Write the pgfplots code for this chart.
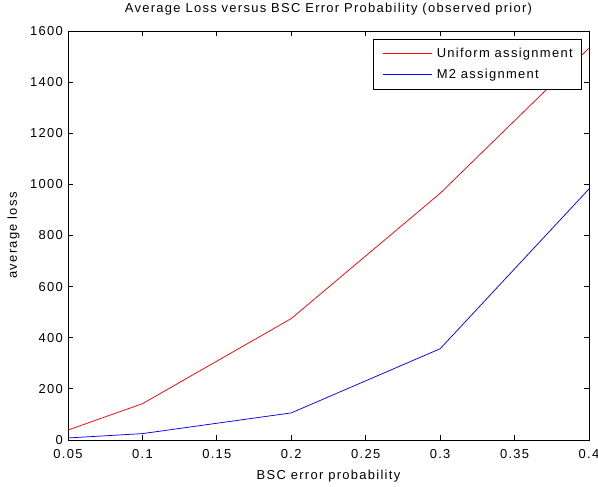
\documentclass[border=0pt]{standalone}
\usepackage{fontspec}
\setmainfont[LetterSpace=10]{Liberation Sans}
\usepackage{pgfplots}
\pgfplotsset{compat=1.18}
\begin{document}
\fontsize{13}{15}\selectfont
\begin{tikzpicture}[x=1bp,y=1bp]
\path[use as bounding box] (-68,-47) rectangle (530,440);
\begin{axis}[
  at={(0,0)}, anchor=south west,
  scale only axis,
  width=521bp, height=409bp,
  xmin=0.05, xmax=0.4, ymin=0, ymax=1600,
  xtick={0.05,0.1,0.15,0.2,0.25,0.3,0.35,0.4},
  xticklabels={0.05,0.1,0.15,0.2,0.25,0.3,0.35,0.4},
  ytick={0,200,400,600,800,1000,1200,1400,1600},
  scaled ticks=false,
  /pgf/number format/1000 sep={},
  /pgf/number format/assume math mode=true,
  tick align=inside,
  major tick length=5bp,
  tick style={black, line width=0.75pt},
  axis line style={black, line width=0.75pt},
  xticklabel style={font=\fontsize{13}{15}\selectfont, anchor=base, yshift=-19bp},
  yticklabel style={font=\fontsize{13}{15}\selectfont, anchor=east, inner sep=0pt, xshift=-5bp},
  xlabel={BSC error probability},
  ylabel={average loss},
  xlabel style={font=\fontsize{13}{15}\selectfont, at={(axis description cs:0.5,0)}, anchor=base, yshift=-39bp},
  ylabel style={font=\fontsize{13}{15}\selectfont, at={(axis description cs:-0.0979,0.5)}, rotate=0, anchor=base},
  title={Average Loss versus BSC Error Probability (observed prior)},
  title style={font=\fontsize{13}{15}\selectfont, at={(axis description cs:0.5,1)}, anchor=base, yshift=13bp},
  legend style={at={(axis description cs:0.9866,0.9797)}, anchor=north east, line width=0.75pt,
    font=\fontsize{13}{15}\selectfont, inner xsep=9bp, inner ysep=8bp, row sep=8bp, column sep=0bp,
    nodes={inner xsep=0pt, inner ysep=0pt, text height=10bp, text depth=3bp, text=black},
    legend cell align=left},
  every axis legend/.append style={draw=black},
]
\addplot[red, line width=0.75pt,
  legend image code/.code={\draw[color=red, line width=1pt] (0bp,1bp) -- (49bp,1bp);}]
  coordinates {(0.05,39) (0.1,142) (0.2,475) (0.3,965) (0.4,1533)};
\addlegendentry{\hspace{4bp}Uniform assignment}
\addplot[blue, line width=0.75pt,
  legend image code/.code={\draw[color=blue, line width=1pt] (0bp,1bp) -- (49bp,1bp);}]
  coordinates {(0.05,8) (0.1,25) (0.2,106) (0.3,357) (0.4,982)};
\addlegendentry{\hspace{4bp}M2 assignment}
\end{axis}
\end{tikzpicture}
\end{document}
